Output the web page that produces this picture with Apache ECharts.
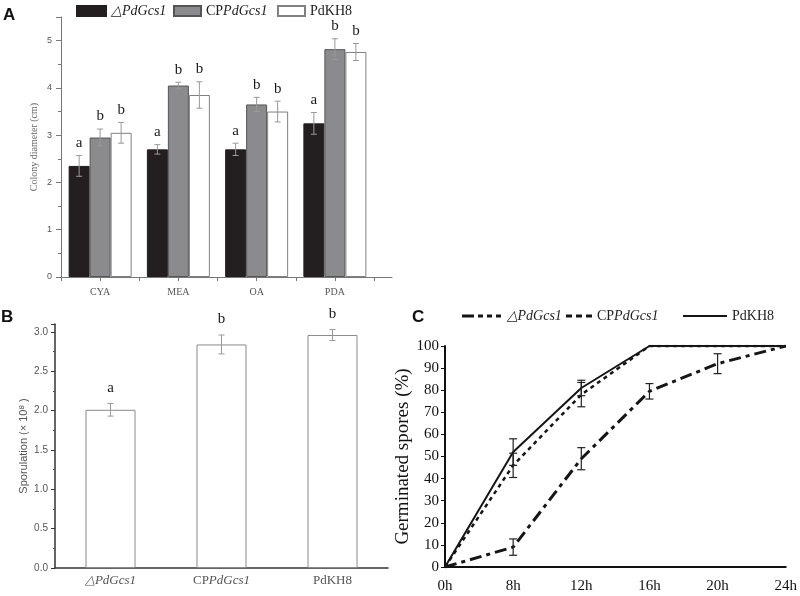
<!DOCTYPE html>
<html><head><meta charset="utf-8">
<script src="https://cdn.jsdelivr.net/npm/echarts@6/dist/echarts.min.js"></script>
<style>html,body{margin:0;padding:0;background:#fff}#c{width:800px;height:596px}</style>
</head><body><div id="c"></div>
<script>
// ---------- Panel A: colony diameter ----------
const mediaA = ['CYA', 'MEA', 'OA', 'PDA'];
const colonyMutant = [2.35, 2.70, 2.70, 3.25];
const colonyComp = [2.95, 4.05, 3.65, 4.82];
const colonyWild = [3.05, 3.85, 3.50, 4.76];
const colonyMutantErr = [0.22, 0.10, 0.13, 0.23];
const colonyCompErr = [0.18, 0.07, 0.15, 0.22];
const colonyWildErr = [0.22, 0.28, 0.22, 0.18];
const colonyMutantLetters = ['a', 'a', 'a', 'a'];
const colonyCompLetters = ['b', 'b', 'b', 'b'];
const colonyWildLetters = ['b', 'b', 'b', 'b'];

// ---------- Panel B: sporulation ----------
const strainsB = ['△PdGcs1', 'CPPdGcs1', 'PdKH8'];
const sporulation = [2.01, 2.84, 2.96];
const sporulationErr = [0.08, 0.12, 0.07];
const sporulationLetters = ['a', 'b', 'b'];

// ---------- Panel C: germination ----------
const timesC = ['0h', '8h', '12h', '16h', '20h', '24h'];
const germMutant = [0, 9, 49, 79.5, 92, 100];
const germMutantErr = [0, 3.7, 5, 3.5, 4.5, 0];
const germComp = [0, 46, 78, 100, 100, 100];
const germCompErr = [0, 5.5, 5.5, 0, 0, 0];
const germWild = [0, 52, 81, 100, 100, 100];
const germWildErr = [0, 6, 3.5, 0, 0, 0];

const serif = 'Liberation Serif';
const sans = 'Liberation Sans';

function nameRich(n) {
  if (n === '△PdGcs1') return '{i|△PdGcs1}';
  if (n === 'CPPdGcs1') return '{n|CP}{i|PdGcs1}';
  return '{n|' + n + '}';
}
function richStyle(size, color) {
  return {
    i: {fontFamily: serif, fontStyle: 'italic', fontSize: size, color: color},
    n: {fontFamily: serif, fontSize: size, color: color}
  };
}

function errSeries(o) {
  return {
    type: 'custom', xAxisIndex: o.xi, yAxisIndex: o.yi, z: 5, silent: true,
    encode: {x: 0, y: 1},
    data: o.data,
    renderItem: function (params, api) {
      const x = api.value(0), y = api.value(1), e = api.value(2);
      const top = api.coord([x, y + e]);
      const bot = api.coord([x, y - e]);
      const cx = top[0] + o.offset;
      const st = {stroke: o.color, lineWidth: o.lw};
      const ch = [];
      if (e > 0) {
        ch.push({type: 'line', shape: {x1: cx, y1: top[1], x2: cx, y2: bot[1]}, style: st});
        ch.push({type: 'line', shape: {x1: cx - o.cap, y1: top[1], x2: cx + o.cap, y2: top[1]}, style: st});
        ch.push({type: 'line', shape: {x1: cx - o.cap, y1: bot[1], x2: cx + o.cap, y2: bot[1]}, style: st});
      }
      if (o.letters) {
        ch.push({type: 'text', style: {text: o.letters[params.dataIndex], x: cx, y: top[1] - o.gap,
          align: 'center', verticalAlign: 'bottom', font: o.font, fill: '#1a1a1a'}});
      }
      return {type: 'group', children: ch};
    }
  };
}

const posA = mediaA.map((_, i) => i + 0.5);
const aBars = [
  {name: 'A|△PdGcs1', vals: colonyMutant, err: colonyMutantErr, let: colonyMutantLetters, fill: '#231f20', border: '#231f20', off: -21},
  {name: 'A|CPPdGcs1', vals: colonyComp, err: colonyCompErr, let: colonyCompLetters, fill: '#8b8b8d', border: '#555', off: 0},
  {name: 'A|PdKH8', vals: colonyWild, err: colonyWildErr, let: colonyWildLetters, fill: '#ffffff', border: '#808080', off: 21}
];

const series = [];
aBars.forEach(b => {
  series.push({
    name: b.name, type: 'bar', xAxisIndex: 0, yAxisIndex: 0,
    barWidth: 21, barGap: '0%',
    itemStyle: {color: b.fill, borderColor: b.border, borderWidth: 1},
    data: posA.map((x, i) => [x, b.vals[i]])
  });
});
aBars.forEach(b => {
  series.push(errSeries({xi: 0, yi: 0, offset: b.off, color: '#9a9a9a', lw: 1, cap: 3,
    data: posA.map((x, i) => [x, b.vals[i], b.err[i]]), letters: b.let, gap: 5, font: '15px ' + serif}));
});

// Panel B
series.push({
  name: 'B|spor', type: 'bar', xAxisIndex: 1, yAxisIndex: 1, barWidth: 50,
  itemStyle: {color: '#fff', borderColor: '#8a8a8a', borderWidth: 1},
  data: sporulation
});
series.push(errSeries({xi: 1, yi: 1, offset: 0, color: '#9a9a9a', lw: 1, cap: 3,
  data: sporulation.map((v, i) => [i, v, sporulationErr[i]]), letters: sporulationLetters, gap: 8, font: '15px ' + serif}));

// Panel C
const lineColor = '#151515';
series.push({
  name: 'C|△PdGcs1', type: 'line', xAxisIndex: 2, yAxisIndex: 2, symbol: 'none', z: 3,
  itemStyle: {color: lineColor},
  lineStyle: {color: lineColor, width: 3, type: [12, 5, 4, 5]}, data: germMutant
});
series.push({
  name: 'C|CPPdGcs1', type: 'line', xAxisIndex: 2, yAxisIndex: 2, symbol: 'none', z: 3,
  itemStyle: {color: lineColor},
  lineStyle: {color: lineColor, width: 2.5, type: [4, 4]}, data: germComp
});
series.push({
  name: 'C|PdKH8', type: 'line', xAxisIndex: 2, yAxisIndex: 2, symbol: 'none', z: 4,
  itemStyle: {color: lineColor},
  lineStyle: {color: lineColor, width: 2, type: 'solid'}, data: germWild
});
[germMutantErr, germCompErr, germWildErr].forEach((errs, k) => {
  const vals = [germMutant, germComp, germWild][k];
  series.push(errSeries({xi: 2, yi: 2, offset: 0, color: '#222', lw: 1.2, cap: 4,
    data: vals.map((v, i) => [i, v, errs[i]])}));
});

function legendFor(name, left, top, w, h, icon, size, color) {
  const o = {
    data: [name], left: left, top: top, itemWidth: w, itemHeight: h, padding: 0,
    selectedMode: false, itemGap: 0, icon: icon,
    formatter: n => nameRich(n.split('|')[1]),
    textStyle: {rich: richStyle(size, '#222'), padding: [0, 0, 0, 0]}
  };
  if (color) o.itemStyle = {color: color, borderWidth: 0};
  return o;
}

const dashDotIcon = 'path://M0,0h12v3h-12zM16,0h5v3h-5zM25,0h5v3h-5zM34,0h5v3h-5z';
const dotIcon = 'path://M0,0h6v3h-6zM10,0h6v3h-6zM20,0h6v3h-6z';
const solidIcon = 'path://M0,0h44v2h-44z';

const option = {
  animation: false,
  backgroundColor: '#fff',
  title: [
    {text: 'A', left: 3, top: 7, padding: 0, textStyle: {fontFamily: sans, fontWeight: 'bold', fontSize: 17, color: '#111'}},
    {text: 'B', left: 1, top: 309, padding: 0, textStyle: {fontFamily: sans, fontWeight: 'bold', fontSize: 17, color: '#111'}},
    {text: 'C', left: 412, top: 309, padding: 0, textStyle: {fontFamily: sans, fontWeight: 'bold', fontSize: 17, color: '#111'}}
  ],
  legend: [
    legendFor('A|△PdGcs1', 76, 4, 29, 10, 'rect', 14),
    legendFor('A|CPPdGcs1', 173, 4, 27, 10, 'rect', 14),
    legendFor('A|PdKH8', 277, 4, 27, 10, 'rect', 14),
    legendFor('C|△PdGcs1', 462, 309, 40, 3, dashDotIcon, 14, lineColor),
    legendFor('C|CPPdGcs1', 566, 309, 26, 3, dotIcon, 14, lineColor),
    legendFor('C|PdKH8', 683, 309, 44, 2, solidIcon, 14, lineColor)
  ],
  grid: [
    {left: 61, top: 17, right: 408, bottom: 319},
    {left: 55, top: 324, right: 412, bottom: 28},
    {left: 445, top: 346, right: 11, bottom: 29}
  ],
  xAxis: [
    {gridIndex: 0, type: 'value', min: 0, max: 4.23, interval: 0.5, splitLine: {show: false},
      axisLine: {lineStyle: {color: '#777'}}, axisTick: {length: 4, lineStyle: {color: '#777'}},
      axisLabel: {fontFamily: serif, fontSize: 10, color: '#555', margin: 10, showMaxLabel: false,
        formatter: v => { const k = v - 0.5; const r = Math.round(k); return (Math.abs(k - r) < 1e-6 && mediaA[r]) ? mediaA[r] : ''; }}},
    {gridIndex: 1, type: 'category', data: strainsB, boundaryGap: true,
      axisLine: {lineStyle: {color: '#333', width: 1.5}}, axisTick: {alignWithLabel: true, length: 5, lineStyle: {color: '#333'}},
      axisLabel: {margin: 6, interval: 0, hideOverlap: false, formatter: v => nameRich(v), rich: richStyle(13, '#555')}},
    {gridIndex: 2, type: 'category', data: timesC, boundaryGap: false,
      axisLine: {lineStyle: {color: '#111', width: 2}}, axisTick: {show: false},
      axisLabel: {fontFamily: serif, fontSize: 15, color: '#111', margin: 12}}
  ],
  yAxis: [
    {gridIndex: 0, type: 'value', min: 0, max: 5.5, interval: 1, splitLine: {show: false},
      axisLine: {show: true, lineStyle: {color: '#777'}}, axisTick: {show: true, length: 5, lineStyle: {color: '#777'}},
      minorTick: {show: true, splitNumber: 2, length: 3, lineStyle: {color: '#777'}},
      axisLabel: {fontFamily: sans, fontSize: 9, color: '#555', margin: 9, formatter: v => Number.isInteger(v) ? String(v) : ''},
      name: 'Colony diameter (cm)', nameLocation: 'middle', nameGap: 22,
      nameTextStyle: {fontFamily: serif, fontSize: 10, color: '#666'}},
    {gridIndex: 1, type: 'value', min: 0, max: 3.1, interval: 0.5, splitLine: {show: false},
      axisLine: {show: true, lineStyle: {color: '#333', width: 1.5}}, axisTick: {show: true, length: 4, lineStyle: {color: '#333'}},
      minorTick: {show: true, splitNumber: 2, length: 2, lineStyle: {color: '#555'}},
      axisLabel: {fontFamily: sans, fontSize: 10, color: '#555', margin: 7,
        formatter: v => (Math.abs(v * 2 - Math.round(v * 2)) < 1e-6) ? v.toFixed(1) : ''},
      name: '{a|Sporulation (× 10}{s|8}{a| )}', nameLocation: 'middle', nameGap: 26,
      nameTextStyle: {rich: {a: {fontFamily: sans, fontSize: 11, color: '#555'}, s: {fontFamily: sans, fontSize: 8, color: '#555', verticalAlign: 'top'}}}},
    {gridIndex: 2, type: 'value', min: 0, max: 100, interval: 10, splitLine: {show: false},
      axisLine: {show: true, lineStyle: {color: '#111', width: 2}}, axisTick: {show: true, length: 4, lineStyle: {color: '#111'}},
      axisLabel: {fontFamily: serif, fontSize: 15, color: '#111', margin: 6},
      name: 'Germinated spores (%)', nameLocation: 'middle', nameGap: 30,
      nameTextStyle: {fontFamily: serif, fontSize: 19, color: '#111'}}
  ],
  series: series
};

const chart = echarts.init(document.getElementById('c'));
chart.setOption(option);
</script>
</body></html>
